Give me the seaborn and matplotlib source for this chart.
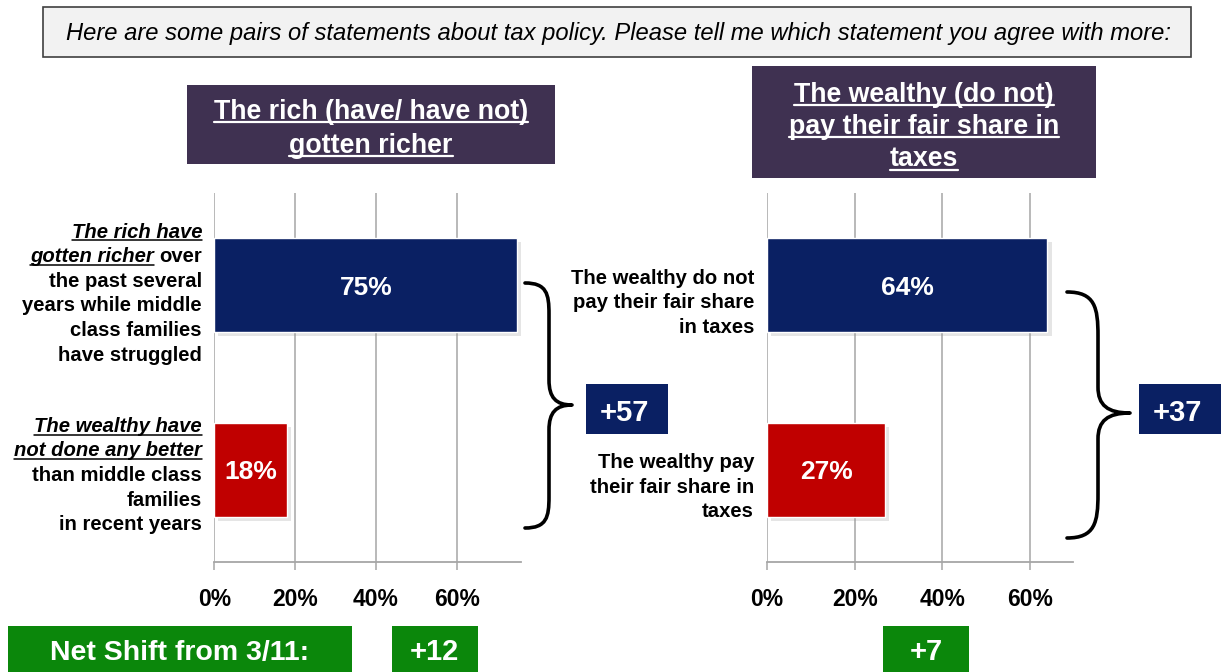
import matplotlib
matplotlib.use("Agg")
import numpy as np
import pandas as pd
import matplotlib.pyplot as plt
import matplotlib.transforms as mtransforms
import matplotlib.patheffects as pe
from matplotlib.patches import Rectangle, PathPatch
from matplotlib.path import Path
from matplotlib.lines import Line2D
import seaborn as sns

# ---------------------------------------------------------------- data
question = ("Here are some pairs of statements about tax policy. "
            "Please tell me which statement you agree with more:")

rich_title = ["The rich (have/ have not)", "gotten richer"]
rich_statements = ["The rich have gotten richer",
                   "The wealthy have not done any better"]
rich_pct = [75, 18]
rich_shift = "+12"

fair_title = ["The wealthy (do not)", "pay their fair share in", "taxes"]
fair_statements = ["The wealthy do not pay their fair share",
                   "The wealthy pay their fair share"]
fair_pct = [64, 27]
fair_shift = "+7"

x_ticks = [0, 20, 40, 60]
tick_labels = ["0%", "20%", "40%", "60%"]
shift_caption = "Net Shift from 3/11:"

# statement text, line by line: (text, italic+underlined) pieces
rich_lines = [
    [[("The rich have", True)],
     [("gotten richer", True), ("over", False)],
     [("the past several", False)],
     [("years while middle", False)],
     [("class families", False)],
     [("have struggled", False)]],
    [[("The wealthy have", True)],
     [("not done any better", True)],
     [("than middle class", False)],
     [("families", False)],
     [("in recent years", False)]],
]
fair_lines = [
    [[("The wealthy do not", False)],
     [("pay their fair share", False)],
     [("in taxes", False)]],
    [[("The wealthy pay", False)],
     [("their fair share in", False)],
     [("taxes", False)]],
]

# ---------------------------------------------------------------- style
NAVY = "#0a2063"
RED = "#c00000"
PURPLE = "#3f3151"
GREEN = "#0b870b"
GRID = "#a6a6a6"

sns.set_style("white")
plt.rcParams["font.family"] = ["Liberation Sans", "DejaVu Sans"]

W, H = 1221, 672
fig = plt.figure(figsize=(W / 100, H / 100), dpi=100, facecolor="white")
renderer = fig.canvas.get_renderer()
# pixel coordinates, origin top-left
PX = mtransforms.Affine2D().scale(1 / W, -1 / H).translate(0, 1) + fig.transFigure


def px_rect(x0, y0, x1, y1, face, edge="none", lw=0):
    fig.add_artist(Rectangle((x0, y0), x1 - x0, y1 - y0, transform=PX,
                             facecolor=face, edgecolor=edge, linewidth=lw))


def px_text(x, y, s, size, ha="center", weight="bold", style="normal",
            color="black"):
    return fig.text(x, y, s, transform=PX, ha=ha, va="baseline",
                    fontsize=size, fontweight=weight, fontstyle=style,
                    color=color)


def underline(t, y_base, color, lw, gap=2.5):
    bb = t.get_window_extent(renderer)
    fig.add_artist(Line2D([bb.x0, bb.x1], [y_base + gap, y_base + gap],
                          transform=PX, color=color, linewidth=lw))


def space_width(size):
    a = fig.text(0, 0, "x x", fontsize=size, fontweight="bold")
    b = fig.text(0, 0, "xx", fontsize=size, fontweight="bold")
    w = a.get_window_extent(renderer).width - b.get_window_extent(renderer).width
    a.remove()
    b.remove()
    return w


def statement_block(x_right, first_base, step, lines, size):
    sw = space_width(size)
    for i, parts in enumerate(lines):
        y = first_base + i * step
        x = x_right
        for s, emph in reversed(parts):
            t = px_text(x, y, s, size, ha="right",
                        style="italic" if emph else "normal")
            if emph:
                underline(t, y, "black", 1.1, gap=2.5)
            x = t.get_window_extent(renderer).x0 - sw


def brace(x0, xm, xa, ytop, yapex, ybot, r, r2):
    verts = [(x0, ytop),
             (x0 + (xm - x0) * 0.9, ytop), (xm, ytop + r * 0.35), (xm, ytop + r),
             (xm, yapex - r2),
             (xm, yapex - r2 * 0.3), (xm + (xa - xm) * 0.3, yapex), (xa, yapex),
             (xm + (xa - xm) * 0.3, yapex), (xm, yapex + r2 * 0.3), (xm, yapex + r2),
             (xm, ybot - r),
             (xm, ybot - r * 0.35), (x0 + (xm - x0) * 0.9, ybot), (x0, ybot)]
    codes = ([Path.MOVETO] + [Path.CURVE4] * 3 + [Path.LINETO]
             + [Path.CURVE4] * 6 + [Path.LINETO] + [Path.CURVE4] * 3)
    fig.add_artist(PathPatch(Path(verts, codes), transform=PX, facecolor="none",
                             edgecolor="black", linewidth=2.6,
                             capstyle="round", joinstyle="round"))


# ---------------------------------------------------------------- header
px_rect(43, 7, 1191, 57, "#f2f2f2", edge="#404040", lw=1.2)
px_text(618, 40, question, 17.1, weight="normal", style="italic",
        color="black")

# ---------------------------------------------------------------- panels
def panel(rect, statements, pct, xmax):
    ax = fig.add_axes(rect)
    df = pd.DataFrame({"statement": statements, "pct": pct})
    sns.barplot(data=df, x="pct", y="statement", hue="statement",
                palette=[NAVY, RED], saturation=1, width=0.51,
                legend=False, ax=ax)
    for bar in ax.patches:
        bar.set_path_effects([pe.SimplePatchShadow(offset=(3, -3),
                                                   shadow_rgbFace="#9a9a9a",
                                                   alpha=0.25),
                              pe.Normal()])
    for cont in ax.containers:
        labels = ax.bar_label(cont, fmt="{:.0f}%", label_type="center",
                              color="white", fontsize=19, fontweight="bold")
        for lab in labels:
            lab.set_verticalalignment("center_baseline")
    ax.set_xlim(0, xmax)
    ax.set_ylim(1.5, -0.5)
    ax.set_xticks(x_ticks)
    ax.set_xticklabels(tick_labels, fontsize=16.5, fontweight="bold",
                       color="black")
    ax.set_yticks([])
    ax.set_xlabel("")
    ax.set_ylabel("")
    ax.set_axisbelow(True)
    ax.xaxis.grid(True, color=GRID, linewidth=1.1)
    for side in ("left", "top", "right"):
        ax.spines[side].set_visible(False)
    ax.spines["bottom"].set_color(GRID)
    ax.spines["bottom"].set_linewidth(1.3)
    ax.tick_params(axis="x", direction="out", length=6, width=1.1,
                   color=GRID, pad=13, bottom=True)
    ax.set_facecolor("none")
    return ax


ax_l = panel([214.3 / W, (H - 561.7) / H, 306.4 / W, 368.7 / H],
             rich_statements, rich_pct, 75.8)
ax_r = panel([767 / W, (H - 561.7) / H, 306.3 / W, 368.7 / H],
             fair_statements, fair_pct, 69.9)

# panel titles
px_rect(187, 85, 555, 164, PURPLE)
for i, line in enumerate(rich_title):
    t = px_text(371, 119 + i * 34, line, 19.3, color="white")
    underline(t, 119 + i * 34, "white", 1.6, gap=3)

px_rect(752, 66, 1096, 178, PURPLE)
for i, line in enumerate(fair_title):
    t = px_text(924, 101.5 + i * 32.5, line, 19.3, color="white")
    underline(t, 101.5 + i * 32.5, "white", 1.6, gap=3)

# statement labels
statement_block(202, 237.5, 24.65, rich_lines[0], 14.6)
statement_block(202, 432, 24.5, rich_lines[1], 14.6)
statement_block(754, 284, 24.35, fair_lines[0], 14.6)
statement_block(754, 468.5, 24.15, fair_lines[1], 14.6)

# braces and net differences
brace(525, 549, 572, 283, 405, 528, 31, 25)
brace(1067, 1098, 1130, 292, 413, 538, 44, 26)

rich_net = rich_pct[0] - rich_pct[1]
fair_net = fair_pct[0] - fair_pct[1]
px_rect(586, 384, 668, 433.5, NAVY)
px_text(624, 421, f"+{rich_net}", 21, color="white")
px_rect(1139, 384, 1235, 433.5, NAVY)
px_text(1177, 421, f"+{fair_net}", 21, color="white")

# net shift row
px_rect(8, 626, 352, 680, GREEN)
px_text(180, 660, shift_caption, 20.5, color="white")
px_rect(392, 626, 477.5, 680, GREEN)
px_text(434.5, 660, rich_shift, 21, color="white")
px_rect(883, 626, 969, 680, GREEN)
px_text(926, 660, fair_shift, 21, color="white")

fig.savefig("out.png", dpi=100, facecolor="white")
